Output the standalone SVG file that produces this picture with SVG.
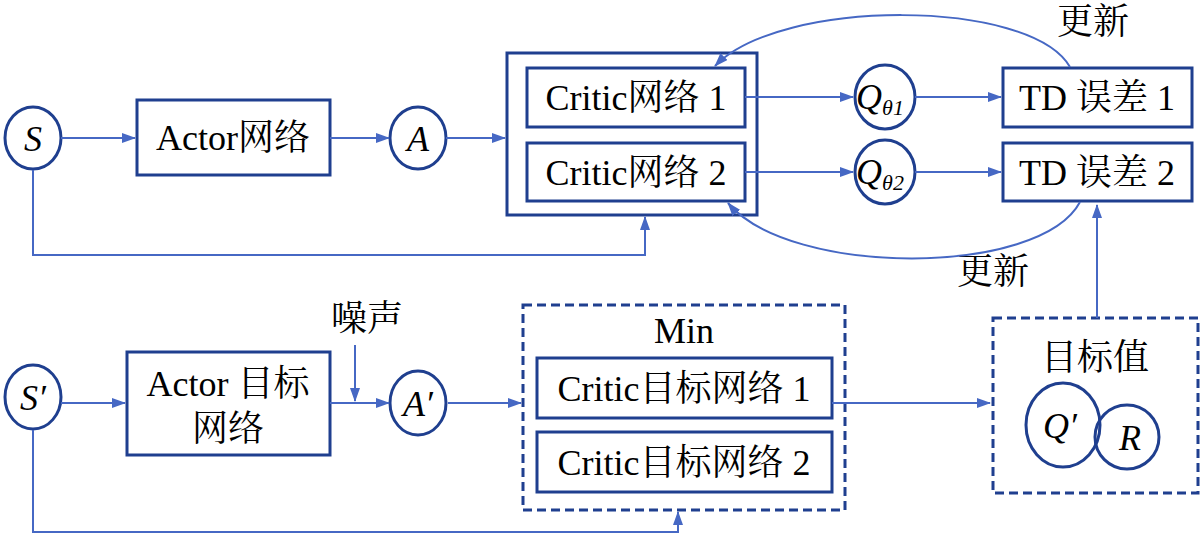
<svg xmlns="http://www.w3.org/2000/svg" width="1200" height="538" viewBox="0 0 1200 538">
<style>
.b{fill:#fff;stroke:#1f3f8f;stroke-width:3}
.n{fill:none;stroke:#1f3f8f;stroke-width:3}
.d{fill:none;stroke:#1f3f8f;stroke-width:3;stroke-dasharray:9 5}
.l{fill:none;stroke:#4668c4;stroke-width:2}
.t{font-family:"Liberation Serif","Noto Serif CJK SC","Noto Sans CJK SC",serif;font-size:36px;fill:#000;text-anchor:middle}
.i{font-style:italic}
</style>
<defs><marker id="a" markerWidth="14" markerHeight="10" refX="13" refY="5" orient="auto" markerUnits="userSpaceOnUse"><path d="M0,0L14,5L0,10z" fill="#4668c4"/></marker></defs>
<g id="S"><ellipse class="b" cx="33" cy="138" rx="28" ry="31"/><text class="t i" x="33" y="151">S</text></g>
<g id="actor"><rect class="b" x="137" y="100" width="193" height="75"/><text class="t" x="233" y="150">Actor网络</text></g>
<g id="A"><ellipse class="b" cx="418" cy="138" rx="28" ry="31"/><text class="t i" x="418" y="151">A</text></g>
<g id="critics"><rect class="b" x="507" y="53" width="250" height="162"/>
<g id="c1"><rect class="b" x="527" y="68" width="218" height="59"/><text class="t" x="636" y="110">Critic网络 1</text></g>
<g id="c2"><rect class="b" x="527" y="143" width="218" height="58"/><text class="t" x="636" y="185">Critic网络 2</text></g></g>
<g id="q1"><ellipse class="b" cx="885" cy="97" rx="30" ry="32"/><text class="t i" x="880" y="109">Q<tspan font-size="22" dy="6">θ1</tspan></text></g>
<g id="q2"><ellipse class="b" cx="885" cy="172" rx="30" ry="32"/><text class="t i" x="880" y="184">Q<tspan font-size="22" dy="6">θ2</tspan></text></g>
<g id="td1"><rect class="b" x="1003" y="68" width="189" height="59"/><text class="t" x="1097" y="110">TD 误差 1</text></g>
<g id="td2"><rect class="b" x="1003" y="143" width="189" height="58"/><text class="t" x="1097" y="185">TD 误差 2</text></g>
<text class="t" x="1093" y="34">更新</text>
<text class="t" x="993" y="284">更新</text>
<g id="S2"><ellipse class="b" cx="33" cy="397" rx="28" ry="32"/><text class="t i" x="33" y="410">S′</text></g>
<g id="actorT"><rect class="b" x="127" y="352" width="203" height="103"/><text class="t" x="228" y="396">Actor 目标</text><text class="t" x="228" y="441">网络</text></g>
<text class="t" x="367" y="331">噪声</text>
<g id="A2"><ellipse class="b" cx="418" cy="403" rx="28" ry="32"/><text class="t i" x="418" y="416">A′</text></g>
<g id="min"><rect class="d" x="523" y="305" width="322" height="205"/><text class="t" x="684" y="343">Min</text>
<g id="ct1"><rect class="b" x="537" y="358" width="295" height="60"/><text class="t" x="684" y="401">Critic目标网络 1</text></g>
<g id="ct2"><rect class="b" x="537" y="432" width="295" height="60"/><text class="t" x="684" y="475">Critic目标网络 2</text></g></g>
<g id="target"><rect class="d" x="993" y="318" width="205" height="175"/><text class="t" x="1095" y="370">目标值</text>
<ellipse class="n" cx="1063" cy="425" rx="37" ry="42"/><circle class="n" cx="1127" cy="437" r="32"/>
<text class="t i" x="1060" y="438">Q′</text><text class="t i" x="1130" y="450">R</text></g>
<g id="connectors">
<path class="l" d="M61,138H135" marker-end="url(#a)"/>
<path class="l" d="M330,138H389" marker-end="url(#a)"/>
<path class="l" d="M446,138H505" marker-end="url(#a)"/>
<path class="l" d="M745,97H853" marker-end="url(#a)"/>
<path class="l" d="M745,172H853" marker-end="url(#a)"/>
<path class="l" d="M915,97H1001" marker-end="url(#a)"/>
<path class="l" d="M915,172H1001" marker-end="url(#a)"/>
<path class="l" d="M33,170V255H645V217" marker-end="url(#a)"/>
<path class="l" d="M1070,67C1030,-2 780,-2 715,66" marker-end="url(#a)"/>
<path class="l" d="M1080,202C1040,277 790,277 728,203" marker-end="url(#a)"/>
<path class="l" d="M1097,318V205" marker-end="url(#a)"/>
<path class="l" d="M61,403H125" marker-end="url(#a)"/>
<path class="l" d="M330,403H389" marker-end="url(#a)"/>
<path class="l" d="M355,345V401" marker-end="url(#a)"/>
<path class="l" d="M448,403H521" marker-end="url(#a)"/>
<path class="l" d="M832,403H990" marker-end="url(#a)"/>
<path class="l" d="M33,430V532H678V512" marker-end="url(#a)"/>
</g>
</svg>
